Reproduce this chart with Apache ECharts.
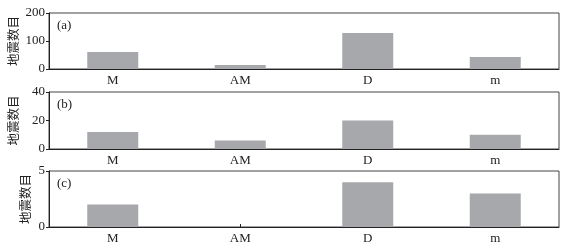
<!DOCTYPE html>
<html><head><meta charset="utf-8">
<script src="https://cdn.jsdelivr.net/npm/echarts@6/dist/echarts.min.js"></script>
<style>html,body{margin:0;padding:0;background:#fff;}#c{width:566px;height:250px;}</style>
</head><body><div id="c"></div>
<script>
const categories = ['M', 'AM', 'D', 'm'];
const valuesA = [61, 14, 129, 43];
const valuesB = [12, 6, 20, 10];
const valuesC = [2, 0, 4, 3];
const yMaxA = 200, yIntA = 100;
const yMaxB = 40, yIntB = 20;
const yMaxC = 5, yIntC = 5;
const panelLabels = ['(a)', '(b)', '(c)'];
const yName = '地震数目';

const serif = '"Liberation Serif", "DejaVu Serif", serif';
const cjk = '"Noto Sans CJK SC", sans-serif';
const txt = '#222';
const barColor = '#a7a8ab';

const grids = [
  {left: 49, right: 7, top: 13, height: 56},
  {left: 49, right: 7, top: 92, height: 57},
  {left: 49, right: 7, top: 171, height: 56}
];
const datas = [valuesA, valuesB, valuesC];
const yCfg = [[yMaxA, yIntA, 29], [yMaxB, yIntB, 29], [yMaxC, yIntC, 17]];

const option = {
  animation: false,
  grid: grids.map(g => Object.assign({show: true, borderColor: '#444', borderWidth: 1, containLabel: false, outerBoundsMode: 'none'}, g)),
  xAxis: grids.map((g, i) => ({
    type: 'category', gridIndex: i, data: categories,
    axisLine: {show: true, lineStyle: {color: '#222', width: 1}},
    axisTick: {show: true, inside: true, alignWithLabel: true, length: 3, lineStyle: {color: '#222'}},
    axisLabel: {color: txt, fontFamily: serif, fontSize: 13, margin: 5}
  })),
  yAxis: grids.map((g, i) => ({
    type: 'value', gridIndex: i, min: 0, max: yCfg[i][0], interval: yCfg[i][1],
    name: yName, nameLocation: 'middle', nameGap: yCfg[i][2], nameRotate: 90,
    nameMoveOverlap: false,
    nameTextStyle: {color: txt, fontFamily: cjk, fontSize: 12.5},
    splitLine: {show: false},
    axisLine: {show: true, lineStyle: {color: '#222', width: 1}},
    axisTick: {show: true, length: 3, lineStyle: {color: '#222'}},
    axisLabel: {color: txt, fontFamily: serif, fontSize: 13, margin: 4}
  })),
  graphic: grids.map((g, i) => ({
    type: 'text', left: 57, top: g.top + 6,
    style: {text: panelLabels[i], fill: txt, font: '13px ' + serif}
  })),
  series: datas.map((d, i) => ({
    type: 'bar', xAxisIndex: i, yAxisIndex: i, data: d,
    barWidth: '40%', itemStyle: {color: barColor}
  }))
};
echarts.init(document.getElementById('c')).setOption(option);
</script>
</body></html>
